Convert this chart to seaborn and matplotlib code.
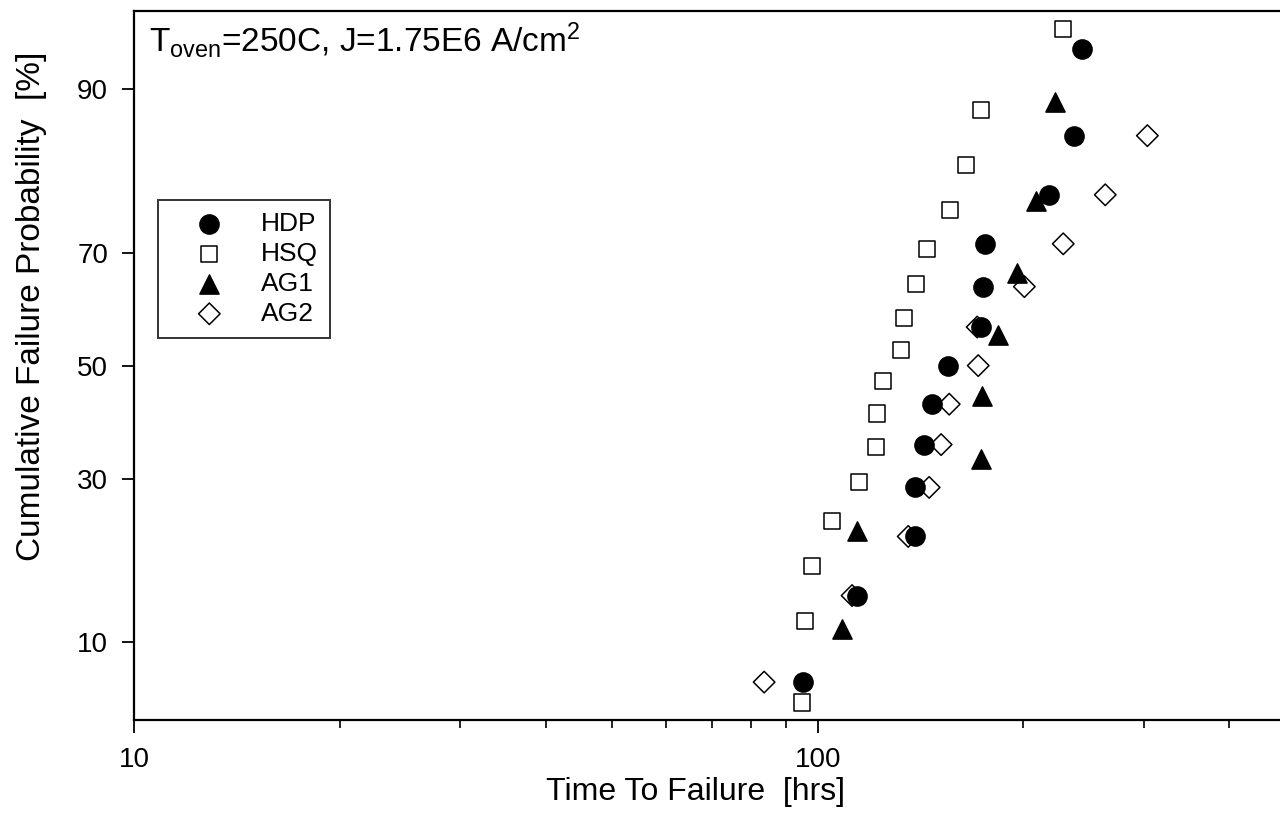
import numpy as np
import pandas as pd
import matplotlib
matplotlib.use('Agg')
import matplotlib.pyplot as plt
import matplotlib.ticker as mticker
import seaborn as sns
from statistics import NormalDist

# time to failure [hrs] and cumulative failure probability [%]
hdp_ttf = [95.2, 114.3, 138.9, 138.9, 143.2, 147.1, 155.3, 173.6, 174.7, 175.9, 218.2, 237.4, 244.0]
hdp_pct = [7.1, 14.3, 21.4, 28.6, 35.7, 42.9, 50.0, 57.1, 64.3, 71.4, 78.6, 85.7, 92.9]

hsq_ttf = [94.9, 95.9, 98.2, 105.0, 115.0, 121.8, 122.2, 124.7, 132.5, 133.9, 139.4, 144.7,
           156.3, 165.0, 173.6, 228.8]
hsq_pct = [5.9, 11.8, 17.6, 23.5, 29.4, 35.3, 41.2, 47.1, 52.9, 58.8, 64.7, 70.6,
           76.5, 82.4, 88.2, 94.1]

ag1_ttf = [108.6, 114.3, 173.6, 174.1, 183.8, 196.0, 208.9, 222.7]
ag1_pct = [11.1, 22.2, 33.3, 44.4, 55.6, 66.7, 77.8, 88.9]

ag2_ttf = [83.5, 112.3, 135.7, 145.6, 151.6, 155.8, 171.8, 171.2, 200.7, 228.8, 263.6, 303.8]
ag2_pct = [7.1, 14.3, 21.4, 28.6, 35.7, 42.9, 50.0, 57.1, 64.3, 71.4, 78.6, 85.7]

y_ticks = [10, 30, 50, 70, 90]
x_ticks = [10, 100]

series = [
    ('HDP', hdp_ttf, hdp_pct, 'o', 'black', 190),
    ('HSQ', hsq_ttf, hsq_pct, 's', 'none', 135),
    ('AG1', ag1_ttf, ag1_pct, '^', 'black', 190),
    ('AG2', ag2_ttf, ag2_pct, 'D', 'none', 120),
]

sns.set_style('white')
plt.rcParams['font.family'] = ['Liberation Sans', 'DejaVu Sans']
plt.rcParams['mathtext.fontset'] = 'custom'
plt.rcParams['mathtext.rm'] = 'Liberation Sans'
plt.rcParams['mathtext.it'] = 'Liberation Sans:italic'
plt.rcParams['mathtext.bf'] = 'Liberation Sans:bold'
for key in ['text.color', 'axes.labelcolor', 'xtick.color', 'ytick.color']:
    plt.rcParams[key] = 'black'

_nd = NormalDist()
_ppf = np.vectorize(_nd.inv_cdf, otypes=[float])
_cdf = np.vectorize(_nd.cdf, otypes=[float])


def prob_fwd(p):
    p = np.clip(np.asarray(p, dtype=float) / 100.0, 1e-9, 1 - 1e-9)
    return _ppf(p)


def prob_inv(z):
    return _cdf(np.asarray(z, dtype=float)) * 100.0


fig = plt.figure(figsize=(12.8, 8.23), dpi=100)
ax = fig.add_axes([0.105, 0.125, 0.895, 0.8615])

for name, ttf, pct, mk, fc, size in series:
    df = pd.DataFrame({'ttf': ttf, 'pct': pct})
    sns.scatterplot(data=df, x='ttf', y='pct', ax=ax, marker=mk, s=size,
                    facecolor=fc, edgecolor='black', linewidth=1.1, label=name)

ax.set_xscale('log')
ax.set_yscale('function', functions=(prob_fwd, prob_inv))
ax.set_xlim(10, 475)
ax.set_ylim(5, 95)

ax.set_xticks(x_ticks)
ax.xaxis.set_major_formatter(mticker.FixedFormatter(['10', '100']))
ax.xaxis.set_minor_locator(mticker.LogLocator(base=10, subs=np.arange(2, 10)))
ax.xaxis.set_minor_formatter(mticker.NullFormatter())
ax.set_yticks(y_ticks)
ax.set_yticklabels([str(v) for v in y_ticks])
ax.yaxis.set_minor_locator(mticker.NullLocator())

ax.tick_params(axis='both', which='major', direction='out', length=9, width=1.3,
               labelsize=20, pad=10)
ax.tick_params(axis='x', which='minor', direction='out', length=6, width=1.2)
ax.tick_params(axis='x', which='both', bottom=True, top=False)
ax.tick_params(axis='y', which='both', left=True, right=False)

for side in ['left', 'bottom', 'top']:
    ax.spines[side].set_color('black')
    ax.spines[side].set_linewidth(1.6)
ax.spines['right'].set_visible(False)

ax.set_xlabel('Time To Failure  [hrs]', fontsize=23)
ax.xaxis.set_label_coords(0.49, -0.08)
ax.set_ylabel('Cumulative Failure Probability  [%]', fontsize=24)
ax.yaxis.set_label_coords(-0.076, 0.583)

ax.text(0.013, 0.988, r'T$_{\mathrm{oven}}$=250C, J=1.75E6 A/cm$^{2}$',
        transform=ax.transAxes, ha='left', va='top', fontsize=24)

leg = ax.legend(loc='upper left', bbox_to_anchor=(0.0205, 0.733), frameon=True,
                fancybox=False, edgecolor='black', fontsize=19, handletextpad=0.45,
                borderpad=0.45, labelspacing=0.22, handlelength=3.0, borderaxespad=0)
leg.get_frame().set_linewidth(1.4)

fig.savefig('out.png', dpi=100, facecolor='white')
